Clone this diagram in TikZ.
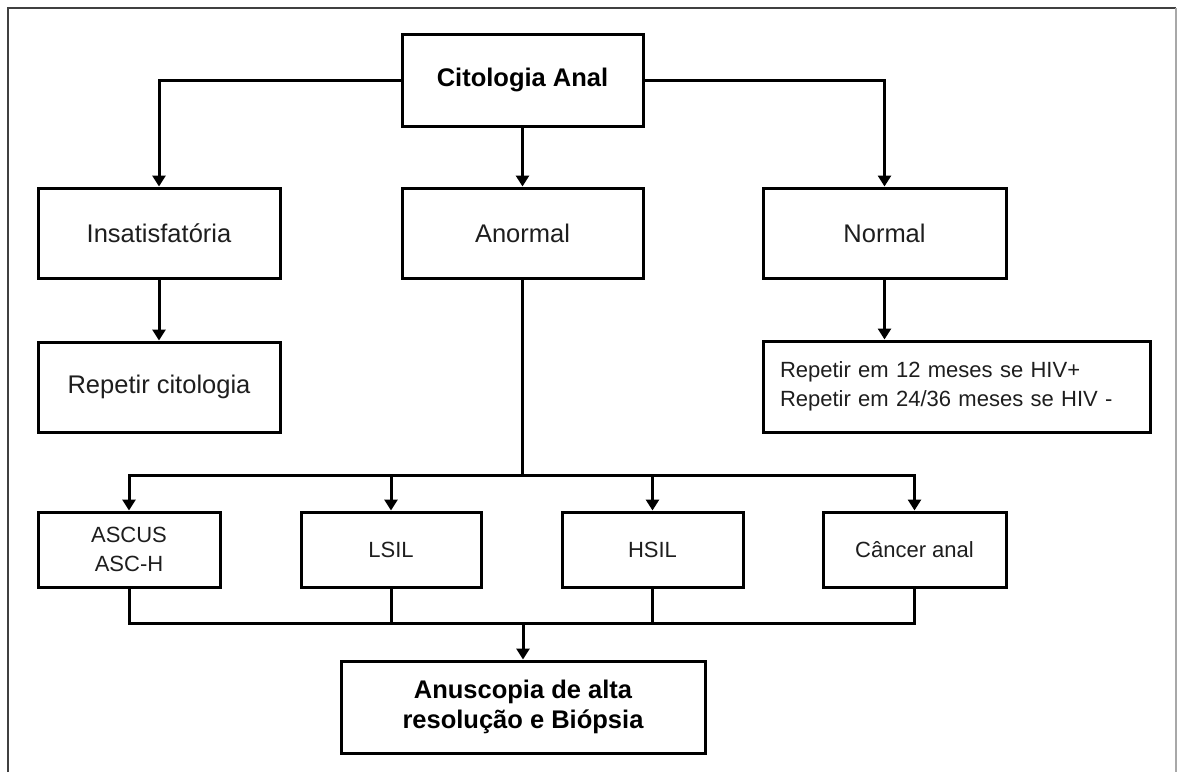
\documentclass[tikz,border=0pt]{standalone}
\usepackage{fontspec}
\setmainfont{Liberation Sans}
\usetikzlibrary{arrows.meta}
\definecolor{txt}{HTML}{1E1E1E}
\definecolor{framedark}{HTML}{404040}
\definecolor{framelight}{HTML}{A8A8A8}
\begin{document}
\begin{tikzpicture}[x=1pt,y=-1pt,
  box/.style={draw=black, line width=3pt, rectangle, inner sep=0pt, text=txt, align=center},
  bigtxt/.style={font=\fontsize{25.5}{30}\selectfont},
  boldtxt/.style={font=\fontsize{25.5}{30}\selectfont\bfseries, text=black},
  smalltxt/.style={font=\fontsize{22}{29}\selectfont},
  conn/.style={draw=black, line width=3pt},
  arr/.style={conn, -{Triangle[width=13pt,length=11pt]}}
]
\useasboundingbox (0,0) rectangle (1178,772);
\fill[white] (0,0) rectangle (1178,772);
% outer frame
\draw[framedark, line width=1.2pt] (8,772) -- (8,8) -- (1176,8);
\draw[framelight, line width=1.5pt] (1176,8) -- (1176,772);

% nodes
\node[box, boldtxt, minimum width=241pt, minimum height=92pt] (cit) at (522.5,80) {Citologia Anal};
\node[box, bigtxt, minimum width=242pt, minimum height=90pt] (ins) at (159,233) {Insatisfatória};
\node[box, bigtxt, minimum width=241pt, minimum height=90pt] (anor) at (522.5,233) {Anormal};
\node[box, bigtxt, minimum width=243pt, minimum height=90pt] (norm) at (884.5,233) {Normal};
\node[box, bigtxt, minimum width=242pt, minimum height=90pt] (rc) at (159,387) {Repetir citologia};
\node[box, smalltxt, minimum width=387pt, minimum height=91pt, align=left, text width=353pt] (re) at (956.5,386.5)
  {Repetir em 12 meses se HIV+\\Repetir em 24/36 meses se HIV -};
\node[box, smalltxt, minimum width=182pt, minimum height=75pt] (ascus) at (129,549.5) {ASCUS\\ASC-H};
\node[box, smalltxt, minimum width=180pt, minimum height=75pt] (lsil) at (391,549.5) {LSIL};
\node[box, smalltxt, minimum width=181pt, minimum height=75pt] (hsil) at (652.5,549.5) {HSIL};
\node[box, smalltxt, minimum width=183pt, minimum height=75pt] (canc) at (914.5,549.5) {Câncer anal};
\node[box, boldtxt, minimum width=364pt, minimum height=92pt] (anu) at (523,707) {Anuscopia de alta\\resolução e Biópsia};

% connectors
\draw[arr] (cit.west) -| (ins.north);
\draw[arr] (cit.east) -| (norm.north);
\draw[arr] (cit.south) -- (anor.north);
\draw[arr] (ins.south) -- (rc.north);
\draw[arr] (norm.south) -- (norm.south |- re.north);

\coordinate (bus) at (522.5,475);
\draw[conn] (anor.south) -- (bus);
\draw[arr] (bus) -| (ascus.north);
\draw[arr] (bus) -| (lsil.north);
\draw[arr] (bus) -| (hsil.north);
\draw[arr] (bus) -| (canc.north);

\coordinate (bus2) at (523,623);
\draw[conn] (ascus.south) |- (bus2);
\draw[conn] (lsil.south) |- (bus2);
\draw[conn] (hsil.south) |- (bus2);
\draw[conn] (canc.south) |- (bus2);
\draw[arr] (bus2) -- (anu.north);
\end{tikzpicture}
\end{document}
